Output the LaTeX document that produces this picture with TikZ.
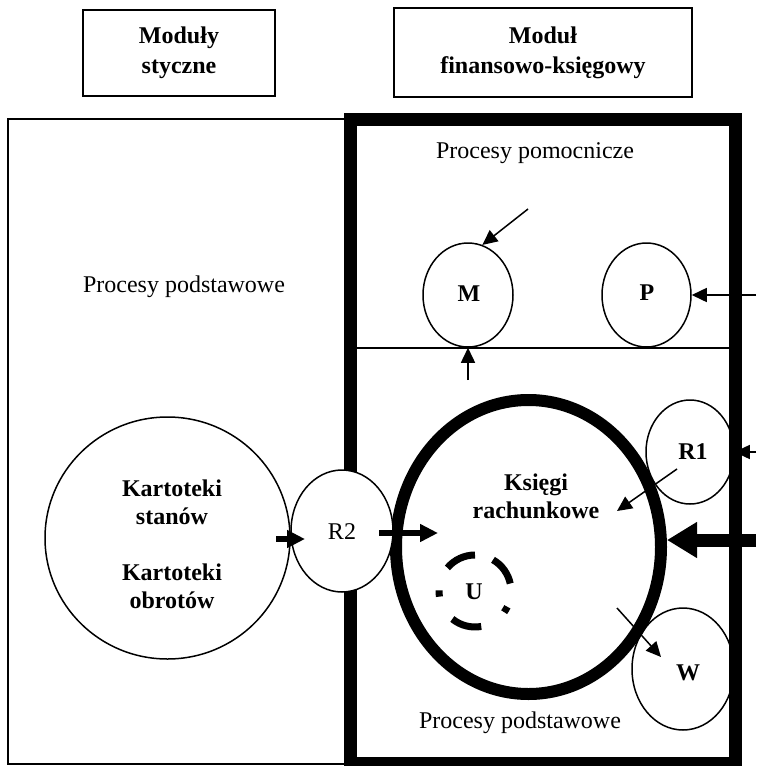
\documentclass[tikz,border=0pt]{standalone}
\usepackage{fontspec}
\setmainfont{Liberation Serif}
\usetikzlibrary{shapes.geometric,arrows.meta,calc}
\begin{document}
\begin{tikzpicture}[x=1pt,y=-1pt,
  txt/.style={font=\fontsize{24}{28}\selectfont, inner sep=0pt, align=center},
  bt/.style={font=\fontsize{24}{28}\selectfont\bfseries, inner sep=0pt, align=center},
  headbox/.style={draw, line width=2pt, rectangle, inner sep=0pt, align=center,
    font=\fontsize{24}{30}\selectfont\bfseries},
  ell/.style={ellipse, draw, line width=1.5pt, inner sep=0pt},
  thinline/.style={line width=1.5pt},
  tarrow/.style={line width=1.5pt, -{Triangle[length=15pt,width=14pt]}},
  marrow/.style={line width=6pt, -{Triangle[length=18pt,width=17pt]}},
  barrow/.style={line width=13pt, -{Triangle[length=30pt,width=34pt]}},
  ubar/.style={line width=7pt}
]
\useasboundingbox (0,0) rectangle (756,766);

% heading boxes
\node[headbox, minimum width=192pt, minimum height=86pt] (h1) at (179,53) {Moduły\\styczne};
\node[headbox, minimum width=298pt, minimum height=89pt] (h2) at (543,52.5) {Moduł\\finansowo-księgowy};

% left thin rectangle (open to the right, meets the frame)
\draw[thinline] (350,119) -- (8,119) -- (8,764) -- (350,764);

% dividing line in the frame
\draw[thinline] (350,348) -- (735,348);

% thick frame
\draw[line width=13pt] (350.5,119.5) rectangle (735.5,763);

% texts
\node[txt] (pp1) at (184,287) {Procesy podstawowe};
\node[txt] (pm) at (535,153) {Procesy pomocnicze};
\node[txt] (pp2) at (520,723) {Procesy podstawowe};

% Kartoteki circle
\node[ell, fill=white, minimum width=245pt, minimum height=242pt] (kart) at (167.5,538) {};
\node[bt] (kartl) at (172,544) {Kartoteki\\stanów\\[28pt]Kartoteki\\obrotów};

% big circle
\node[ellipse, draw, fill=white, line width=12pt, inner sep=0pt,
  minimum width=265pt, minimum height=294pt] (ks) at (528.5,547) {};
\node[bt] (ksl) at (536,496) {Księgi\\rachunkowe};

% R2 (covers the frame)
\node[ell, fill=white, minimum width=102pt, minimum height=122pt] (r2) at (342,531) {};
\node[txt] (r2l) at (342,532) {R2};

% M and P
\node[ell, minimum width=90pt, minimum height=104pt] (m) at (468,295) {};
\node[bt] (ml) at (469,294) {M};
\node[ell, minimum width=89pt, minimum height=104pt] (p) at (646.5,295) {};
\node[bt] (pl) at (647,293) {P};

% R1 and W
\node[ell, minimum width=88pt, minimum height=104pt] (r1) at (690,452) {};
\node[bt] (r1l) at (693,452) {R1};
\node[ell, minimum width=102pt, minimum height=122pt] (w) at (683,669) {};
\node[bt] (wl) at (688,673) {W};

% U dashed circle
\node[bt] (u) at (474,592) {U};
\coordinate (uc) at (475,591);
\draw[ubar] ($(uc)+(-12:36)$) arc[start angle=-12, end angle=-60, radius=36];
\draw[ubar] ($(uc)+(-90:36)$) arc[start angle=-90, end angle=-140, radius=36];
\draw[ubar] ($(uc)+(-179:36)$) arc[start angle=-179, end angle=-189, radius=36];
\draw[ubar] ($(uc)+(-231:36)$) arc[start angle=-231, end angle=-280, radius=36];
\draw[ubar] ($(uc)+(-324:36)$) arc[start angle=-324, end angle=-334, radius=36];

% free ends of connectors
\coordinate (msrc) at (528,209);
\coordinate (mbot) at (468,380);
\coordinate (pin) at (756,295);
\coordinate (r1in) at (756,452);
\coordinate (ksin) at (756,540);
\coordinate (k2r) at (276,539);
\coordinate (k2rt) at (305,539);
\coordinate (r2k) at (379,533);
\coordinate (r2kt) at (438,533);
\coordinate (r1s) at (677,469);
\coordinate (r1t) at (617,511);
\coordinate (ws) at (617,608);
\coordinate (wt) at (661,657);

% connectors
\draw[tarrow] (msrc) -- (m.74);
\draw[tarrow] (mbot) -- (m.south);
\draw[tarrow] (pin) -- (p.east);
\draw[tarrow] (r1in) -- (r1.east);
\draw[barrow] (ksin) -- (ksin -| ks.east);
\draw[marrow] (k2r) -- (k2rt);
\draw[marrow] (r2k) -- (r2kt);
\draw[tarrow] (r1s) -- (r1t);
\draw[tarrow] (ws) -- (wt);
\end{tikzpicture}
\end{document}
